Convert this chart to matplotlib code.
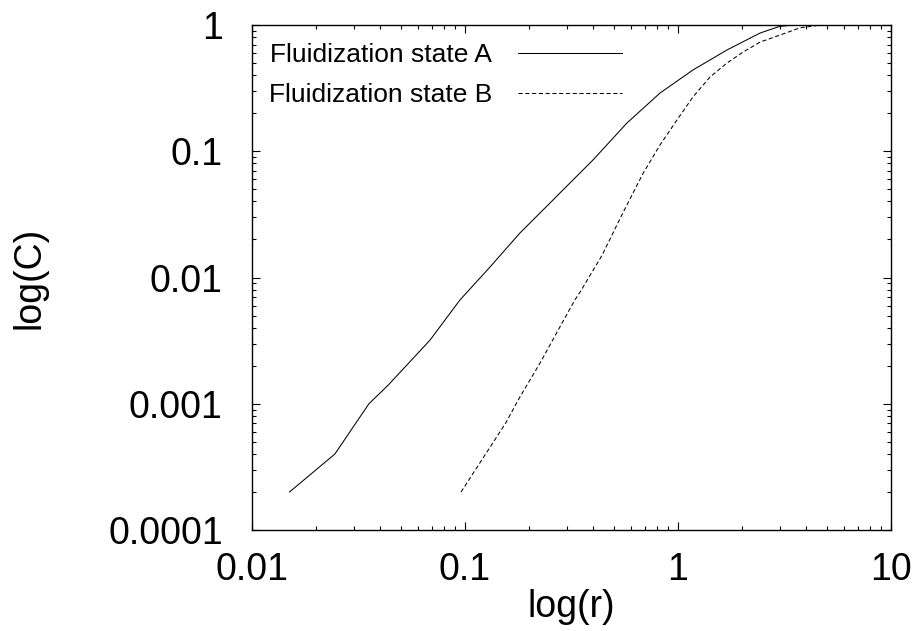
#!/usr/bin/env python
"""Plot correlation sum C(r) for two fluidization states."""
import matplotlib
matplotlib.use("Agg")
import matplotlib.pyplot as plt

# fluidization state A (solid)
r_a = [0.015, 0.0245, 0.0354, 0.0435, 0.0686, 0.0947, 0.131, 0.181, 0.259,
       0.279, 0.399, 0.576, 0.823, 1.175, 1.698, 2.43, 3.0, 3.5, 4.7]
c_a = [0.0002, 0.0004, 0.001, 0.0014, 0.0032, 0.00664, 0.0121, 0.0225, 0.0411,
       0.0467, 0.0853, 0.1675, 0.289, 0.44, 0.634, 0.864, 0.975, 1.0, 1.0]

# fluidization state B (dashed)
r_b = [0.0958, 0.125, 0.155, 0.181, 0.225, 0.279, 0.328, 0.347, 0.44, 0.546,
       0.686, 0.823, 0.989, 1.175, 1.413, 1.698, 2.02, 2.43, 3.0, 3.74, 4.7]
c_b = [0.0002, 0.0004, 0.0007, 0.00113, 0.0021, 0.00406, 0.00664, 0.00767,
       0.0150, 0.0315, 0.067, 0.112, 0.177, 0.269, 0.387, 0.50, 0.61, 0.733,
       0.83, 0.95, 1.0]

x_ticks = [0.01, 0.1, 1, 10]
x_labels = ["0.01", "0.1", "1", "10"]
y_ticks = [0.0001, 0.001, 0.01, 0.1, 1]
y_labels = ["0.0001", "0.001", "0.01", "0.1", "1"]

plt.rcParams['font.family'] = ['Liberation Sans', 'DejaVu Sans']

fig = plt.figure(figsize=(9.17, 6.31), dpi=100)
ax = fig.add_axes([252 / 917, 101 / 631, 639 / 917, 505 / 631])

ax.plot(r_a, c_a, color='black', lw=0.75, label="Fluidization state A")
ax.plot(r_b, c_b, color='black', lw=0.75, dashes=(4, 2.5),
        label="Fluidization state B")

ax.set_xscale('log')
ax.set_yscale('log')
ax.set_xlim(0.01, 10)
ax.set_ylim(0.0001, 1)

ax.set_xticks(x_ticks)
ax.set_xticklabels(x_labels)
ax.set_yticks(y_ticks)
ax.set_yticklabels(y_labels)

ax.tick_params(which='both', direction='in', top=True, right=True,
               width=0.8, labelsize=27)
ax.tick_params(which='major', length=6)
ax.tick_params(which='minor', length=3)
ax.tick_params(axis='x', which='major', pad=16)
ax.tick_params(axis='y', which='major', pad=21)
for sp in ax.spines.values():
    sp.set_linewidth(1.0)

ax.set_xlabel("log(r)", fontsize=27)
ax.set_ylabel("log(C)", fontsize=27)
ax.xaxis.set_label_coords(0.5, -0.117)
ax.yaxis.set_label_coords(-0.320, 0.5)

ax.legend(loc='upper left', bbox_to_anchor=(0.0266, 0.964), frameon=False,
          markerfirst=False, fontsize=19, borderaxespad=0, borderpad=0,
          handlelength=3.94, handletextpad=0.98, labelspacing=0.6)

fig.savefig("out.png", dpi=100)
